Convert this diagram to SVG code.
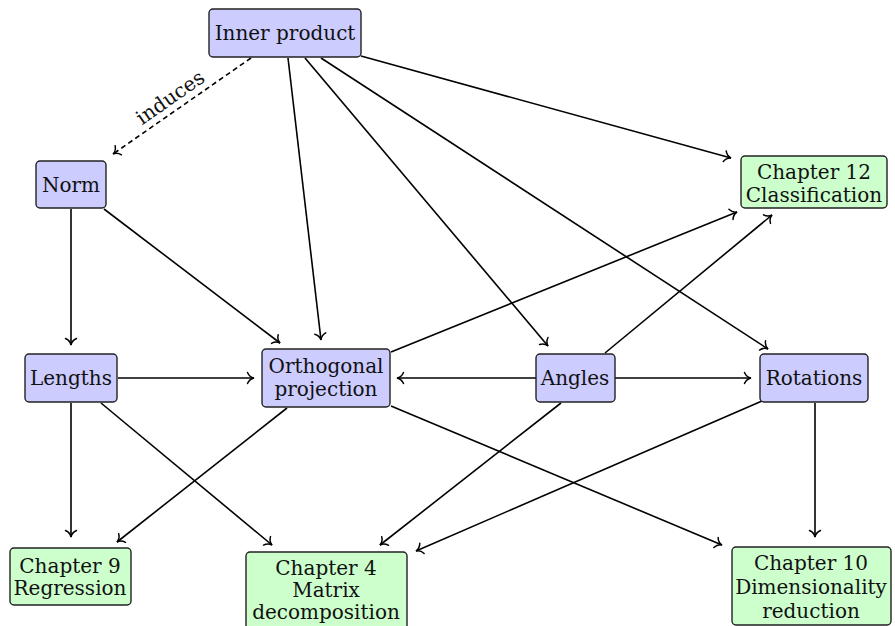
<svg xmlns="http://www.w3.org/2000/svg" width="895" height="626" viewBox="0 0 895 626">
<style>
.b rect{fill:#ccccff;stroke:#222;stroke-width:1.4}
.g rect{fill:#ccffcc;stroke:#222;stroke-width:1.4}
text{font-family:"DejaVu Serif","Liberation Serif",serif;font-size:20px;fill:#111;text-anchor:middle}
#edges line{stroke:#000;stroke-width:1.6;fill:none;marker-end:url(#arr)}
#edges .d{stroke-dasharray:5,3.5}
</style>
<defs>
<marker id="arr" viewBox="-9 -7 11 14" markerWidth="11" markerHeight="14" refX="0" refY="0" orient="auto" markerUnits="userSpaceOnUse">
<path d="M-6.5,-5.5 C-5,-2 -2,-0.4 0,0 C-2,0.4 -5,2 -6.5,5.5" fill="none" stroke="#000" stroke-width="1.5" stroke-linecap="round"/>
</marker>
</defs>
<rect width="895" height="626" fill="#fff"/>
<g id="edges">
<line class="d" x1="251" y1="58" x2="113" y2="154"/>
<line x1="288" y1="58" x2="321" y2="340"/>
<line x1="305" y1="58" x2="548" y2="346"/>
<line x1="321" y1="58" x2="768" y2="349"/>
<line x1="361" y1="56" x2="731" y2="158"/>
<line x1="71" y1="209" x2="71" y2="345"/>
<line x1="104" y1="209" x2="280" y2="343"/>
<line x1="118" y1="378" x2="254" y2="378"/>
<line x1="71" y1="403" x2="71" y2="537"/>
<line x1="101" y1="403" x2="272" y2="545"/>
<line x1="391" y1="352" x2="737" y2="212"/>
<line x1="287" y1="408" x2="117" y2="542"/>
<line x1="391" y1="406" x2="722" y2="545"/>
<line x1="536" y1="378" x2="397" y2="378"/>
<line x1="615" y1="378" x2="751" y2="378"/>
<line x1="605" y1="353" x2="772" y2="215"/>
<line x1="561" y1="403" x2="380" y2="545"/>
<line x1="762" y1="401" x2="416" y2="551"/>
<line x1="815" y1="403" x2="815" y2="537"/>
<text transform="translate(174,103) rotate(-35)">induces</text>
</g>
<g id="inner" class="b"><rect x="209" y="9" width="152" height="48" rx="4"/><text x="285" y="40">Inner product</text></g>
<g id="norm" class="b"><rect x="36" y="161" width="70" height="47" rx="4"/><text x="71" y="192">Norm</text></g>
<g id="lengths" class="b"><rect x="25" y="354" width="92" height="48" rx="4"/><text x="71" y="385">Lengths</text></g>
<g id="orth" class="b"><rect x="262" y="349" width="128" height="58" rx="4"/><text x="326" y="373">Orthogonal</text><text x="326" y="396">projection</text></g>
<g id="angles" class="b"><rect x="536" y="354" width="79" height="48" rx="4"/><text x="575" y="385">Angles</text></g>
<g id="rotations" class="b"><rect x="760" y="354" width="108" height="48" rx="4"/><text x="814" y="385">Rotations</text></g>
<g id="ch12" class="g"><rect x="741" y="156" width="146" height="52" rx="4"/><text x="814" y="179">Chapter 12</text><text x="814" y="202">Classification</text></g>
<g id="ch9" class="g"><rect x="10" y="548" width="121" height="57" rx="4"/><text x="70" y="573">Chapter 9</text><text x="70" y="595">Regression</text></g>
<g id="ch4" class="g"><rect x="246" y="552" width="161" height="90" rx="4"/><text x="326" y="575">Chapter 4</text><text x="326" y="597">Matrix</text><text x="326" y="619">decomposition</text></g>
<g id="ch10" class="g"><rect x="732" y="547" width="159" height="78" rx="4"/><text x="811" y="570">Chapter 10</text><text x="811" y="594">Dimensionality</text><text x="811" y="618">reduction</text></g>
</svg>
